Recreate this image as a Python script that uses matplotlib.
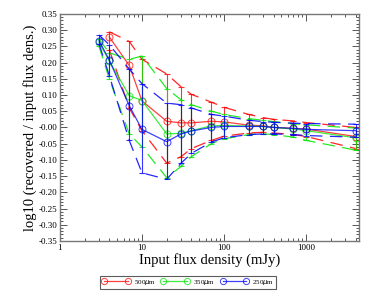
import matplotlib
matplotlib.use("Agg")
import matplotlib.pyplot as plt
from matplotlib.ticker import FixedLocator, MultipleLocator, LogLocator, NullFormatter, FixedFormatter
import numpy as np

plt.rcParams['font.family'] = ['Liberation Serif', 'DejaVu Serif']

# 500 um (red)
x_500 = [4, 7, 10, 20, 30, 40, 70, 100, 200, 300, 400, 700, 1000, 4000]
y_500 = [0.279, 0.191, 0.082, 0.019, 0.014, 0.014, 0.019, 0.017, 0.007, 0.005, 0.0, -0.003, -0.005, -0.028]
up_500 = [0.295, 0.265, 0.21, 0.165, 0.125, 0.102, 0.078, 0.062, 0.04, 0.03, 0.025, 0.02, 0.015, 0.0]
lo_500 = [0.24, 0.06, -0.01, -0.11, -0.09, -0.065, -0.04, -0.027, -0.017, -0.015, -0.017, -0.022, -0.028, -0.065]

# 350 um (green)
x_350 = [3, 4, 7, 10, 20, 30, 40, 70, 100, 200, 300, 400, 700, 1000, 4000]
y_350 = [0.262, 0.205, 0.098, 0.083, -0.02, -0.018, -0.01, 0.005, 0.006, 0.004, 0.003, 0.0, -0.005, -0.01, -0.032]
up_350 = [0.272, 0.23, 0.21, 0.22, 0.12, 0.085, 0.07, 0.05, 0.04, 0.027, 0.022, 0.018, 0.012, 0.008, -0.002]
lo_350 = [0.25, 0.15, -0.02, -0.06, -0.155, -0.12, -0.09, -0.05, -0.035, -0.022, -0.02, -0.022, -0.03, -0.04, -0.07]

# 250 um (blue)
x_250 = [3, 4, 7, 10, 20, 30, 40, 70, 100, 200, 300, 400, 700, 1000, 4000]
y_250 = [0.267, 0.208, 0.067, -0.006, -0.044, -0.02, -0.011, 0.0, 0.003, 0.003, 0.003, 0.0, -0.003, -0.006, -0.01]
up_250 = [0.285, 0.255, 0.18, 0.135, 0.075, 0.07, 0.06, 0.04, 0.035, 0.022, 0.018, 0.016, 0.013, 0.012, 0.01]
lo_250 = [0.258, 0.16, -0.04, -0.14, -0.16, -0.11, -0.08, -0.045, -0.032, -0.022, -0.02, -0.02, -0.022, -0.025, -0.03]

series = [
    ("500$\\mu$m", (1.0, 0.0, 0.0), x_500, y_500, up_500, lo_500),
    ("350$\\mu$m", (0.0, 0.9, 0.0), x_350, y_350, up_350, lo_350),
    ("250$\\mu$m", (0.0, 0.0, 1.0), x_250, y_250, up_250, lo_250),
]

fig = plt.figure(figsize=(3.74, 2.96), dpi=100)
ax = fig.add_axes([0.160, 0.186, 0.800, 0.767])

handles = []
for label, col, xs, ys, ups, los in series:
    xs = np.array(xs); ys = np.array(ys); ups = np.array(ups); los = np.array(los)
    ax.errorbar(xs, ys, yerr=[ys - los, ups - ys], fmt='none', ecolor=col,
                elinewidth=0.8, capsize=2, capthick=0.8, alpha=0.8)
    ax.plot(xs, ups, color=col, lw=0.9, ls=(0, (10, 6)), alpha=0.85)
    ax.plot(xs, los, color=col, lw=0.9, ls=(0, (10, 6)), alpha=0.85)
    h, = ax.plot(xs, ys, color=col, lw=0.9, marker='o', ms=5, mfc='none',
                 mec=col, mew=0.7, alpha=0.75)
    handles.append(h)

ax.set_xscale('log')
ax.set_xlim(1, 4400)
ax.set_ylim(-0.35, 0.35)

ax.xaxis.set_major_locator(FixedLocator([1, 10, 100, 1000]))
ax.xaxis.set_major_formatter(FixedFormatter(['1', '10', '100', '1000']))
ax.xaxis.set_minor_locator(LogLocator(base=10, subs=np.arange(2, 10)))
ax.xaxis.set_minor_formatter(NullFormatter())
yt = np.round(np.arange(-0.35, 0.351, 0.05), 2)
ax.yaxis.set_major_locator(FixedLocator(yt))
ax.yaxis.set_major_formatter(FixedFormatter(['%.2f' % v for v in yt]))
ax.yaxis.set_minor_locator(MultipleLocator(0.01))

ax.tick_params(which='both', direction='in', top=True, right=True, labelsize=6.5,
               color='#555555', width=0.7, pad=2)
ax.tick_params(which='major', length=5)
ax.tick_params(which='minor', length=2.5)
for s in ax.spines.values():
    s.set_color('#777777')
    s.set_linewidth(1.0)

ax.set_xlabel('Input flux density (mJy)', fontsize=10.5, labelpad=1)
ax.set_ylabel('log10 (recovered / input flux dens.)', fontsize=10.5, labelpad=1)

leg = fig.legend(handles=handles, labels=[s[0] for s in series], loc='center',
                 bbox_to_anchor=(0.503, 0.046), ncol=3, fontsize=5,
                 frameon=True, fancybox=False, borderpad=0.3, handlelength=4,
                 handletextpad=0.5, columnspacing=0.8, markerscale=0.9,
                 numpoints=2, borderaxespad=0)
leg.get_frame().set_edgecolor('#333333')
leg.get_frame().set_linewidth(0.8)

fig.savefig('out.png', dpi=100)
